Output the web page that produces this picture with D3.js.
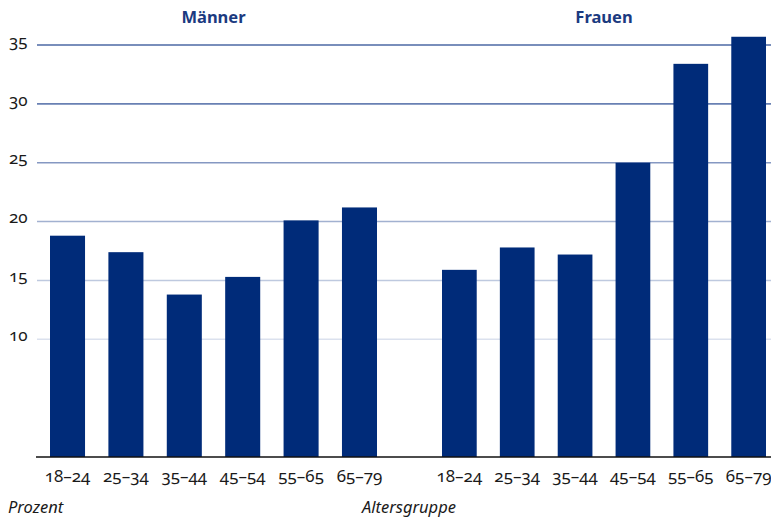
<!DOCTYPE html>
<html>
<head>
<meta charset="utf-8">
<script src="https://cdn.jsdelivr.net/npm/d3@7"></script>
<style>
  body { margin: 0; background: #fff; }
  svg { display: block; font-family: "Noto Sans", "Open Sans", sans-serif; }
  .tick-label, .cat-label { font-feature-settings: "onum" 1; }
</style>
</head>
<body>
<svg id="chart" width="771" height="517"></svg>
<script>
// Data
const ageGroups = ['18–24', '25–34', '35–44', '45–54', '55–65', '65–79'];
const maennerValues = [18.8, 17.4, 13.8, 15.3, 20.1, 21.2];
const frauenValues = [15.9, 17.8, 17.2, 25.0, 33.4, 35.7];
const yTicks = [10, 15, 20, 25, 30, 35];
const panelTitles = ['Männer', 'Frauen'];

const svg = d3.select('#chart');
const W = 771;

// Scales
const y = d3.scaleLinear().domain([0, 35]).range([457, 45]);

const xM = d3.scaleBand().domain(ageGroups).range([50, 377]).paddingInner(0.4).paddingOuter(0);
const xF = d3.scaleBand().domain(ageGroups).range([442, 766]).paddingInner(0.4).paddingOuter(0);

// gridline colour fades from dark (top) to light (bottom)
const gridColor = d3.scaleLinear().domain([10, 35]).range(['#dbe1ee', '#4c68a4']);

// Gridlines
svg.append('g').attr('class', 'grid')
  .selectAll('line')
  .data(yTicks)
  .join('line')
  .attr('x1', 37)
  .attr('x2', W)
  .attr('y1', d => y(d))
  .attr('y2', d => y(d))
  .attr('stroke', d => gridColor(d))
  .attr('stroke-width', 1.6);

// Tick labels
svg.append('g')
  .selectAll('text')
  .data(yTicks)
  .join('text')
  .attr('class', 'tick-label')
  .attr('x', 9)
  .attr('y', d => y(d))
  .attr('dy', '0.1em')
  .attr('font-size', 17)
  .attr('fill', '#1a1a1a')
  .text(d => d);

// Bars
const panels = [
  { title: panelTitles[0], values: maennerValues, x: xM },
  { title: panelTitles[1], values: frauenValues, x: xF }
];

panels.forEach(p => {
  const g = svg.append('g');
  g.selectAll('rect')
    .data(ageGroups.map((a, i) => ({ age: a, value: p.values[i] })))
    .join('rect')
    .attr('x', d => p.x(d.age))
    .attr('y', d => y(d.value))
    .attr('width', p.x.bandwidth())
    .attr('height', d => y(0) - y(d.value))
    .attr('fill', '#002b79');

  g.selectAll('.cat-label')
    .data(ageGroups)
    .join('text')
    .attr('class', 'cat-label')
    .attr('x', d => p.x(d) + p.x.bandwidth() / 2)
    .attr('y', 482)
    .attr('text-anchor', 'middle')
    .attr('font-size', 17)
    .attr('fill', '#1a1a1a')
    .text(d => d);

  const r = p.x.range();
  g.append('text')
    .attr('x', (r[0] + r[1]) / 2)
    .attr('y', 23)
    .attr('text-anchor', 'middle')
    .attr('font-size', 16.5)
    .attr('font-weight', 'bold')
    .attr('fill', '#1b3a80')
    .text(p.title);
});

// Baseline
svg.append('line')
  .attr('x1', 36)
  .attr('x2', W)
  .attr('y1', y(0))
  .attr('y2', y(0))
  .attr('stroke', '#111')
  .attr('stroke-width', 1.5);

// Axis captions
svg.append('text')
  .attr('x', 8)
  .attr('y', 513)
  .attr('font-size', 16.5)
  .attr('font-style', 'italic')
  .attr('fill', '#1a1a1a')
  .text('Prozent');

svg.append('text')
  .attr('x', 362)
  .attr('y', 513)
  .attr('font-size', 16.5)
  .attr('font-style', 'italic')
  .attr('fill', '#1a1a1a')
  .text('Altersgruppe');
</script>
</body>
</html>
